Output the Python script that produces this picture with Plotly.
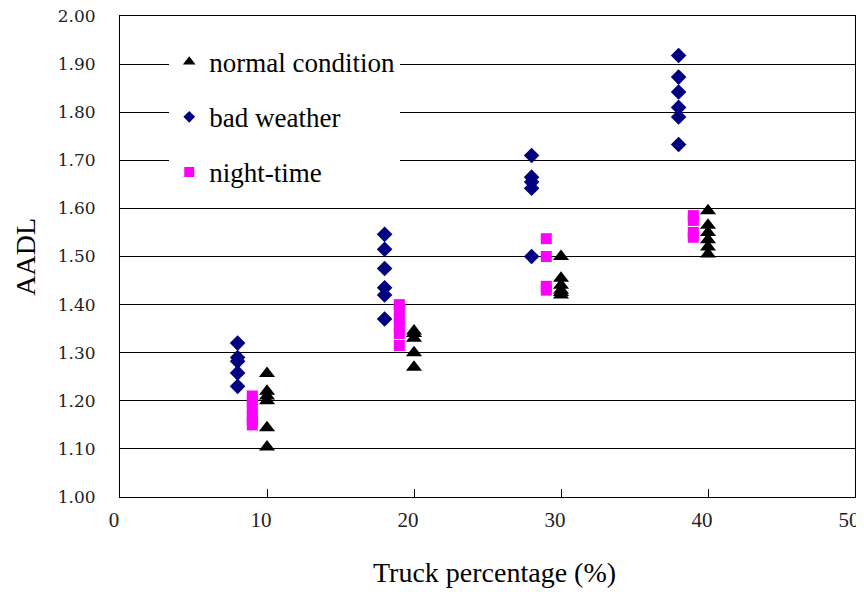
import plotly.graph_objects as go

# Normal condition (triangles)
normal_x = [10, 10, 10, 10, 10, 10,
            20, 20, 20, 20, 20,
            30, 30, 30, 30, 30, 30,
            40, 40, 40, 40, 40, 40]
normal_y = [1.257, 1.22, 1.21, 1.20, 1.144, 1.104,
            1.345, 1.34, 1.33, 1.30, 1.27,
            1.50, 1.455, 1.44, 1.43, 1.425, 1.42,
            1.595, 1.565, 1.55, 1.535, 1.52, 1.505]

# Bad weather (diamonds)
bad_x = [8, 8, 8, 8, 8,
         18, 18, 18, 18, 18, 18,
         28, 28, 28, 28, 28,
         38, 38, 38, 38, 38, 38]
bad_y = [1.32, 1.29, 1.282, 1.258, 1.23,
         1.546, 1.515, 1.475, 1.435, 1.42, 1.37,
         1.71, 1.665, 1.655, 1.642, 1.50,
         1.918, 1.873, 1.842, 1.81, 1.79, 1.733]

# Night-time (squares)
night_x = [9, 9, 9, 9, 9, 9,
           19, 19, 19, 19, 19, 19,
           29, 29, 29, 29,
           39, 39, 39, 39]
night_y = [1.21, 1.20, 1.185, 1.17, 1.16, 1.15,
           1.40, 1.39, 1.37, 1.355, 1.34, 1.315,
           1.537, 1.50, 1.438, 1.43,
           1.585, 1.575, 1.55, 1.54]

series_names = ["normal condition", "bad weather", "night-time"]
x_ticks = [0, 10, 20, 30, 40, 50]
y_ticks = [1.00, 1.10, 1.20, 1.30, 1.40, 1.50, 1.60, 1.70, 1.80, 1.90, 2.00]

styles = [dict(symbol="triangle-up", color="black"),
          dict(symbol="diamond", color="#000080"),
          dict(symbol="square", color="#FF00FF")]
plot_sizes = [14, 12, 11]
legend_sizes = [11, 9, 10]

fig = go.Figure()
for (xs, ys), name, st, sz, i in zip([(normal_x, normal_y), (bad_x, bad_y), (night_x, night_y)],
                                      series_names, styles, plot_sizes, range(3)):
    fig.add_trace(go.Scatter(x=xs, y=ys, mode="markers", name=name, showlegend=False,
                             legendgroup=f"g{i}",
                             marker=dict(size=sz, **st)))
# legend-only entries (smaller legend symbols, as in the reference)
for name, st, sz, i in zip(series_names, styles, legend_sizes, range(3)):
    fig.add_trace(go.Scatter(x=[None], y=[None], mode="markers", name=name,
                             legendgroup=f"g{i}",
                             marker=dict(size=sz, **st)))
# invisible trace on an overlay axis that carries the x tick labels
fig.add_trace(go.Scatter(x=[None], y=[None], mode="markers", xaxis="x2",
                         showlegend=False, hoverinfo="skip"))

fig.update_layout(
    width=856, height=584,
    margin=dict(l=112, r=9, t=8, b=95),
    paper_bgcolor="white", plot_bgcolor="white",
    showlegend=True,
    legend=dict(x=0.067, y=0.955, xanchor="left", yanchor="top",
                bgcolor="white", borderwidth=0,
                font=dict(family="Liberation Serif", size=27, color="black"),
                tracegroupgap=17, itemsizing="trace"),
    xaxis=dict(range=[0, 50], tickvals=x_ticks, showticklabels=False,
               showgrid=False, zeroline=False, automargin=False,
               showline=True, linecolor="black", linewidth=1, mirror=True,
               ticks="inside", ticklen=8, tickcolor="black"),
    xaxis2=dict(range=[0, 50], tickvals=x_ticks, ticktext=[str(v) for v in x_ticks],
                overlaying="x", anchor="y", side="bottom",
                showgrid=False, zeroline=False, automargin=False, showline=False,
                ticks="", ticklabeloverflow="allow", ticklabelstandoff=8, ticklabelshift=-6,
                tickfont=dict(family="Liberation Serif", size=21, color="#222")),
    yaxis=dict(range=[1.0, 2.0], tickvals=y_ticks, ticktext=[f"{v:.2f}" for v in y_ticks],
               showgrid=True, gridcolor="black", gridwidth=1, zeroline=False, automargin=False,
               showline=True, linecolor="black", linewidth=1, mirror=True,
               ticks="inside", ticklen=8, tickcolor="black",
               ticklabeloverflow="allow", ticklabelstandoff=20,
               tickfont=dict(family="DejaVu Serif", size=17, color="#222")),
    annotations=[
        dict(text="Truck percentage (%)", xref="paper", yref="paper",
             x=0.51, y=-0.158, xanchor="center", yanchor="middle", showarrow=False,
             font=dict(family="Liberation Serif", size=28, color="black")),
        dict(text="AADL", xref="paper", yref="paper", textangle=-90,
             x=-0.129, y=0.5, xanchor="center", yanchor="middle", showarrow=False,
             font=dict(family="Liberation Serif", size=28, color="black")),
    ],
)

fig.write_html("out.html")
